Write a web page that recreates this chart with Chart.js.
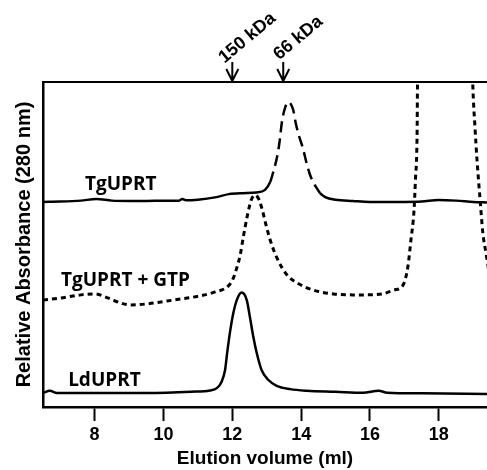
<!DOCTYPE html>
<html>
<head>
<meta charset="utf-8">
<script src="https://cdn.jsdelivr.net/npm/chart.js@4.4.1/dist/chart.umd.min.js"></script>
<style>
  html, body { margin: 0; padding: 0; background: #fff; }
  #wrap { width: 487px; height: 470px; position: relative; }
</style>
</head>
<body>
<div id="wrap"><canvas id="c" width="487" height="470"></canvas></div>
<script>
// ---- data (elution volume in ml, relative absorbance in arbitrary units 0-100) ----
const tgX = [6.5, 7.0, 7.6, 8.05, 8.5, 9.0, 9.5, 10.0, 10.45, 10.55, 10.65, 11.0, 11.5, 11.9, 12.3, 12.7, 12.95,
  13.10, 13.19, 13.30, 13.36, 13.45, 13.54, 13.62, 13.70, 13.77, 13.85, 13.95, 14.05, 14.15, 14.25, 14.35, 14.45, 14.55,
  14.7, 15.0, 15.5, 16.0, 16.5, 17.0, 17.5, 18.0, 18.5, 19.0, 19.4];
const tgY = [63.1, 63.2, 63.5, 64.0, 63.5, 63.4, 63.4, 63.5, 63.5, 64.0, 63.6, 63.8, 64.5, 65.5, 65.8, 66.0, 66.8,
  69.2, 72.3, 76.9, 80.6, 88.3, 92.3, 93.8, 93.2, 91.4, 87.0, 83.0, 79.7, 75.4, 71.7, 69.2, 67.4, 65.8,
  64.6, 63.8, 63.4, 63.1, 63.1, 63.1, 63.2, 63.7, 63.5, 63.1, 62.9];

const gtpX = [6.5, 7.0, 7.6, 8.0, 8.4, 8.75, 9.05, 9.5, 10.1, 10.6, 11.07, 11.5, 11.88, 12.02, 12.13, 12.23, 12.32, 12.43,
  12.55, 12.67, 12.78, 12.88, 12.98, 13.10, 13.30, 13.59, 13.88, 14.35, 14.93, 15.5, 15.91, 16.4, 16.7, 16.96,
  17.10, 17.19, 17.28, 17.32, 17.37, 17.38, 17.41, 18.2, 18.96, 18.99, 19.05, 19.11, 19.20, 19.28, 19.37, 19.45];
const gtpY = [32.9, 33.5, 34.5, 34.8, 33.5, 32.0, 31.4, 31.7, 32.6, 33.4, 34.2, 35.4, 37.2, 39.4, 42.8, 46.8, 52.3, 58.5,
  63.7, 65.2, 63.7, 60.3, 56.0, 51.4, 45.8, 40.6, 38.2, 36.0, 34.8, 34.5, 34.5, 34.9, 36.0, 37.5,
  43.1, 51.4, 60.6, 69.8, 85.2, 98.5, 115, 150, 110, 98.2, 86.2, 76.0, 63.7, 53.5, 47.4, 42.0];

const ldX = [6.5, 6.7, 6.9, 8.0, 9.5, 10.8, 11.35, 11.55, 11.69, 11.79, 11.85, 11.93, 12.03, 12.13, 12.27, 12.42, 12.51,
  12.61, 12.71, 12.85, 13.05, 13.29, 13.68, 14.16, 15.0, 15.8, 16.25, 16.5, 17.5, 19.4];
const ldY = [4.3, 5.0, 4.3, 4.3, 4.3, 4.7, 5.1, 5.8, 7.8, 11.4, 16.6, 22.8, 28.9, 32.9, 35.2, 32.9, 27.8,
  21.6, 16.6, 11.4, 8.3, 6.5, 5.5, 5.0, 4.7, 4.4, 5.0, 4.4, 4.2, 4.0];

const tickValues = [8, 10, 12, 14, 16, 18];
const seriesNames = ['TgUPRT', 'TgUPRT + GTP', 'LdUPRT'];
const labelAnchorX = [7.72, 7.02, 7.23];
const labelAnchorY = [66.8, 37.2, 6.5];
const markerNames = ['150 kDa', '66 kDa'];
const markerX = [12.0, 13.48];
const xTitle = 'Elution volume (ml)';
const yTitle = 'Relative Absorbance (280 nm)';
const tgDashFrom = 13.05, tgDashTo = 14.6;

const toPts = (xs, ys) => xs.map((x, i) => ({ x: x, y: ys[i] }));

const overlay = {
  id: 'overlay',
  afterDraw(chart) {
    const { ctx, chartArea: a, scales: { x, y } } = chart;
    ctx.save();
    // top frame line
    ctx.strokeStyle = '#000';
    ctx.lineWidth = 2;
    ctx.beginPath();
    ctx.moveTo(a.left - 1, a.top);
    ctx.lineTo(a.right, a.top);
    ctx.stroke();
    // curve labels
    ctx.fillStyle = '#000';
    ctx.font = 'bold 19px "Open Sans", sans-serif';
    ctx.textAlign = 'left';
    ctx.textBaseline = 'alphabetic';
    seriesNames.forEach((n, i) => {
      ctx.fillText(n, x.getPixelForValue(labelAnchorX[i]), y.getPixelForValue(labelAnchorY[i]));
    });
    // size-marker arrows
    ctx.lineWidth = 2;
    ctx.font = 'bold 18px "Liberation Sans", Arial, sans-serif';
    ctx.textAlign = 'center';
    ctx.textBaseline = 'middle';
    markerNames.forEach((n, i) => {
      const px = x.getPixelForValue(markerX[i]);
      ctx.beginPath();
      ctx.moveTo(px, a.top - 20);
      ctx.lineTo(px, a.top - 1);
      ctx.moveTo(px - 6, a.top - 13);
      ctx.lineTo(px, a.top - 1);
      ctx.lineTo(px + 6, a.top - 13);
      ctx.stroke();
      ctx.save();
      ctx.translate(px + 15, a.top - 44);
      ctx.rotate(-40 * Math.PI / 180);
      ctx.fillText(n, 0, 0);
      ctx.restore();
    });
    ctx.restore();
  }
};

new Chart(document.getElementById('c'), {
  type: 'line',
  data: {
    datasets: [
      {
        label: seriesNames[0],
        data: toPts(tgX, tgY),
        borderColor: '#000',
        borderWidth: 2.5,
        segment: {
          borderDash: c => (c.p0.parsed.x >= tgDashFrom && c.p1.parsed.x <= tgDashTo) ? [11, 6] : undefined
        }
      },
      {
        label: seriesNames[1],
        data: toPts(gtpX, gtpY),
        borderColor: '#000',
        borderWidth: 3,
        borderDash: [5, 4]
      },
      {
        label: seriesNames[2],
        data: toPts(ldX, ldY),
        borderColor: '#000',
        borderWidth: 2.5
      }
    ]
  },
  options: {
    responsive: false,
    animation: false,
    devicePixelRatio: 1,
    layout: { padding: { top: 82, right: 0, left: 0, bottom: 0 } },
    elements: {
      point: { radius: 0 },
      line: { cubicInterpolationMode: 'monotone', fill: false, borderCapStyle: 'butt' }
    },
    plugins: { legend: { display: false }, tooltip: { enabled: false } },
    scales: {
      x: {
        type: 'linear',
        min: 6.5,
        max: 19.4,
        afterBuildTicks: s => { s.ticks = tickValues.map(v => ({ value: v })); },
        afterFit: s => { s.height = 63; },
        grid: { display: true, drawOnChartArea: false, drawTicks: true, tickLength: 14, tickWidth: 2, tickColor: '#000' },
        border: { display: true, color: '#000', width: 2.5 },
        ticks: { color: '#000', padding: 3, font: { family: '"Liberation Sans", Arial, sans-serif', size: 18, weight: 'bold' } },
        title: { display: true, text: xTitle, color: '#000', padding: 0,
          font: { family: '"Liberation Sans", Arial, sans-serif', size: 19, weight: 'bold' } }
      },
      y: {
        type: 'linear',
        min: 0,
        max: 100,
        afterFit: s => { s.width = 43; },
        grid: { display: false },
        border: { display: true, color: '#000', width: 2.5 },
        ticks: { display: false },
        title: { display: true, text: yTitle, color: '#000', padding: { top: 12, bottom: 0 },
          font: { family: '"Liberation Sans", Arial, sans-serif', size: 20, weight: 'bold' } }
      }
    }
  },
  plugins: [overlay]
});
</script>
</body>
</html>
